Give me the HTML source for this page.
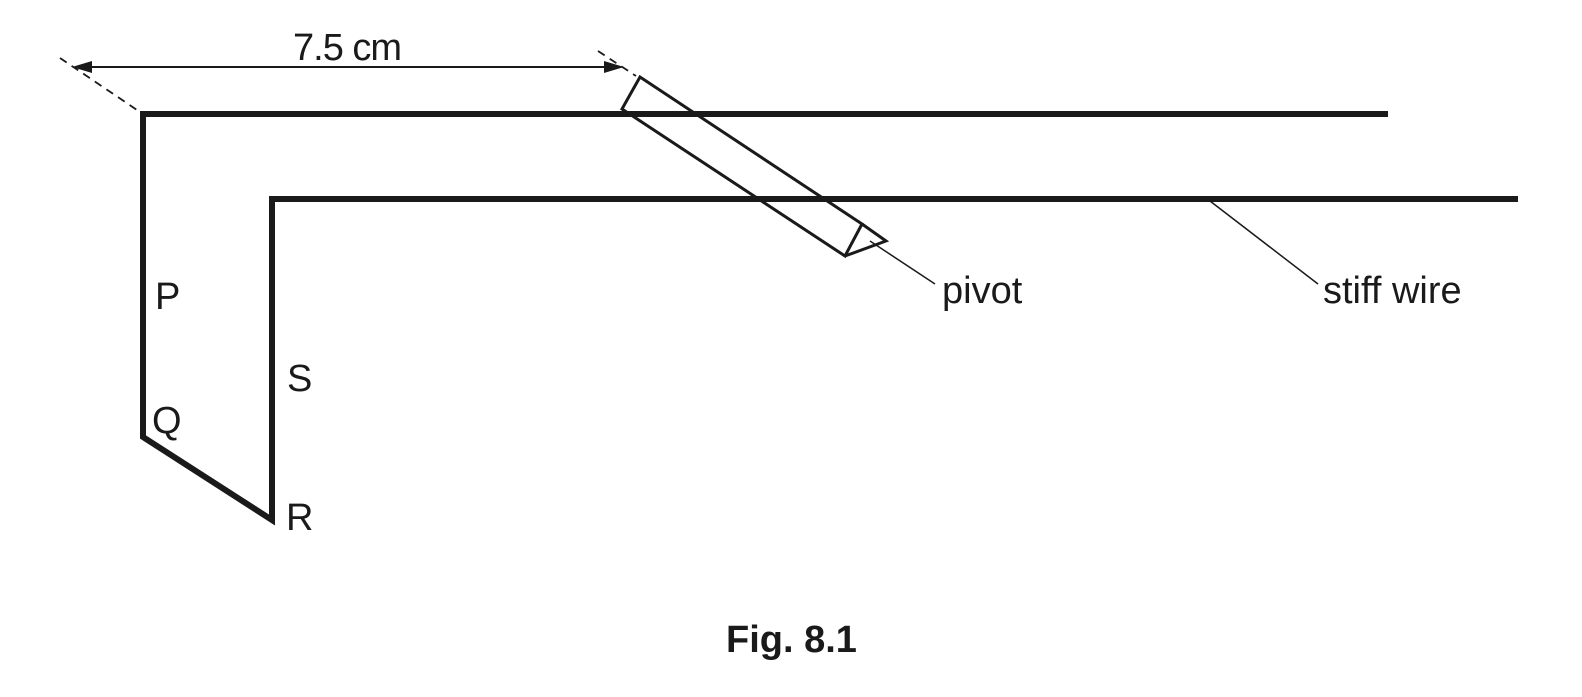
<!DOCTYPE html>
<html><head><style>body{margin:0;background:#fff}</style></head><body>
<svg width="1582" height="692" xmlns="http://www.w3.org/2000/svg" font-family="Liberation Sans, sans-serif">
<rect width="1582" height="692" fill="#fff"/>
<g stroke="#1a1a1a" fill="none">
<polyline points="1388,114 143,114 143,437 272,520 272,199 1518,199" stroke-width="6" stroke-linejoin="miter"/>
<polygon points="640,77 622,109 845,256 862,224" stroke-width="3"/>
<polyline points="862,224 886,241 845,256" stroke-width="3" stroke-linejoin="miter"/>
<line x1="870" y1="241" x2="935" y2="284" stroke-width="1.5"/>
<line x1="1210" y1="201" x2="1318" y2="284" stroke-width="1.5"/>
<line x1="60" y1="58" x2="140" y2="112" stroke-width="1.8" stroke-dasharray="8,6"/>
<line x1="598" y1="51" x2="636" y2="76" stroke-width="1.8" stroke-dasharray="8,6"/>
<line x1="90" y1="67" x2="605" y2="67" stroke-width="2"/>
</g>
<polygon points="72,67 92,61 92,73" fill="#1a1a1a"/>
<polygon points="624,67 604,61 604,73" fill="#1a1a1a"/>
<g font-size="38" fill="#1a1a1a">
<text x="293" y="60" letter-spacing="-1">7.5 cm</text>
<text x="155" y="309">P</text>
<text x="152" y="433">Q</text>
<text x="287" y="391">S</text>
<text x="286" y="530">R</text>
<text x="942" y="303">pivot</text>
<text x="1323" y="303">stiff wire</text>
<text x="726" y="652" font-weight="bold">Fig. 8.1</text>
</g>
</svg>
</body></html>
